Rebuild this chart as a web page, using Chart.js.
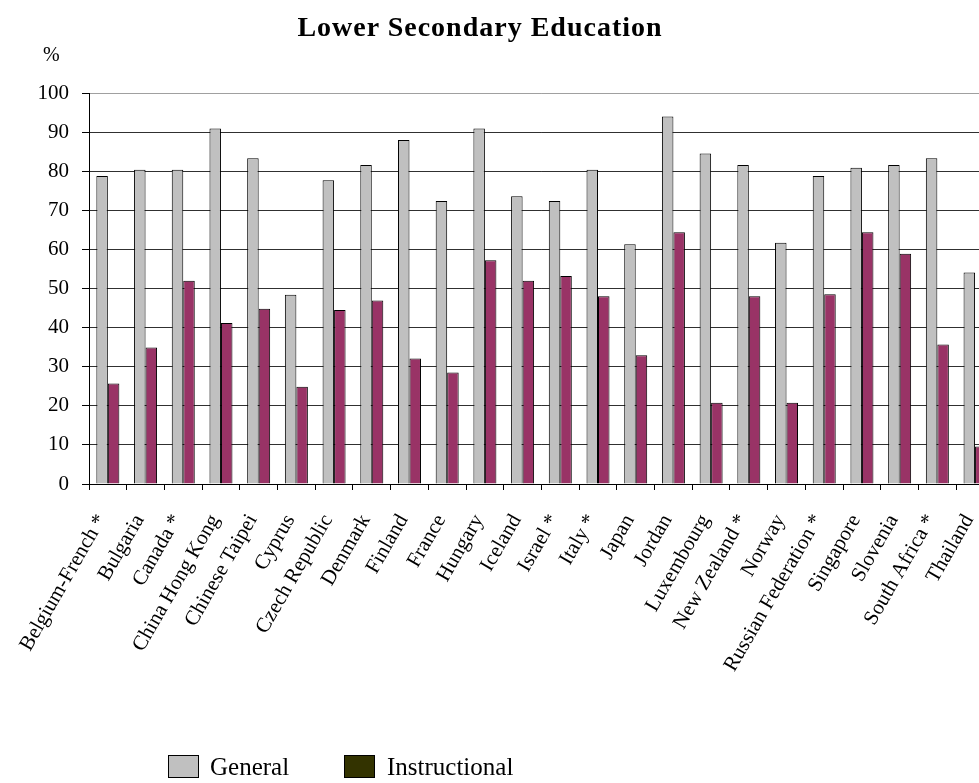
<!DOCTYPE html>
<html>
<head>
<meta charset="utf-8">
<script src="https://cdn.jsdelivr.net/npm/chart.js@4.4.0/dist/chart.umd.min.js"></script>
<style>
  html, body { margin: 0; padding: 0; background: #fff; overflow: hidden; width: 979px; height: 783px; }
  #wrap { position: absolute; left: 0; top: 0; width: 1017px; height: 783px; }
  .txt { position: absolute; font-family: "Liberation Serif", "Times New Roman", serif; color: #000; white-space: nowrap; line-height: 1; }
  #title { left: 0; width: 960px; top: 13px; text-align: center; font-size: 28px; font-weight: bold; letter-spacing: 1px; }
  #unit { left: 43px; top: 44px; font-size: 20px; }
  .swatch { position: absolute; width: 31px; height: 23px; border: 1.5px solid #000; box-sizing: border-box; }
  .legtxt { font-size: 25px; top: 754px; }
</style>
</head>
<body>
<div id="wrap"><canvas id="chart" width="1017" height="783"></canvas></div>
<div class="txt" id="title">Lower Secondary Education</div>
<div class="txt" id="unit">%</div>
<div class="swatch" style="left:168px; top:755px; background:#c0c0c0;"></div>
<div class="txt legtxt" style="left:210px;">General</div>
<div class="swatch" style="left:344px; top:755px; background:#333300;"></div>
<div class="txt legtxt" style="left:387px;">Instructional</div>
<script>
// Lower secondary education - general vs instructional, % by country
const countries = [
    'Belgium-French *', 'Bulgaria', 'Canada *', 'China Hong Kong', 'Chinese Taipei',
    'Cyprus', 'Czech Republic', 'Denmark', 'Finland', 'France', 'Hungary', 'Iceland',
    'Israel *', 'Italy *', 'Japan', 'Jordan', 'Luxembourg', 'New Zealand *', 'Norway',
    'Russian Federation *', 'Singapore', 'Slovenia', 'South Africa *', 'Thailand'
];
const general = [
    78.8, 80.4, 80.4, 90.9, 83.3, 48.4, 77.7, 81.6, 88.0, 72.4, 90.9, 73.6,
    72.4, 80.4, 61.3, 94.0, 84.5, 81.6, 61.7, 78.8, 80.9, 81.6, 83.3, 54.1
];
const instructional = [
    25.7, 34.9, 52.0, 41.2, 44.8, 24.9, 44.5, 46.9, 32.1, 28.5, 57.2, 52.0,
    53.2, 48.0, 32.9, 64.4, 20.8, 48.0, 20.8, 48.5, 64.4, 58.9, 35.7, 9.6
];
const yTicks = [0, 10, 20, 30, 40, 50, 60, 70, 80, 90, 100];

Chart.defaults.font.family = '"Liberation Serif", "Times New Roman", serif';
Chart.defaults.color = '#000';

const chart = new Chart(document.getElementById('chart'), {
    type: 'bar',
    data: {
        labels: countries,
        datasets: [
            {
                label: 'General',
                data: general,
                backgroundColor: '#c0c0c0',
                borderColor: '#000',
                borderWidth: 1
            },
            {
                label: 'Instructional',
                data: instructional,
                backgroundColor: '#993366',
                borderColor: '#000',
                borderWidth: 1
            }
        ]
    },
    options: {
        responsive: false,
        animation: false,
        layout: { padding: { top: 93, right: 6, left: 0, bottom: 0 } },
        datasets: { bar: { categoryPercentage: 0.61, barPercentage: 1.0 } },
        plugins: {
            legend: { display: false },
            title: { display: false },
            tooltip: { enabled: false }
        },
        scales: {
            x: {
                grid: {
                    display: true,
                    drawOnChartArea: false,
                    drawTicks: true,
                    tickLength: 6,
                    tickColor: '#000',
                    offset: true
                },
                border: { color: '#000', width: 1 },
                ticks: {
                    autoSkip: false,
                    minRotation: 60,
                    maxRotation: 60,
                    padding: 20,
                    labelOffset: -6,
                    font: { size: 21 }
                },
                afterFit: (scale) => { scale.height = 299; }
            },
            y: {
                min: yTicks[0],
                max: yTicks[yTicks.length - 1],
                afterBuildTicks: (scale) => { scale.ticks = yTicks.map(v => ({ value: v })); },
                grid: {
                    color: (ctx) => (ctx.tick && ctx.tick.value === 100 ? '#a0a0a0' : '#303030'),
                    tickColor: '#000',
                    tickLength: 7
                },
                border: { color: '#000', width: 1 },
                ticks: {
                    padding: 13,
                    font: { size: 21 }
                },
                afterFit: (scale) => { scale.width = 89; }
            }
        }
    }
});
</script>
</body>
</html>
